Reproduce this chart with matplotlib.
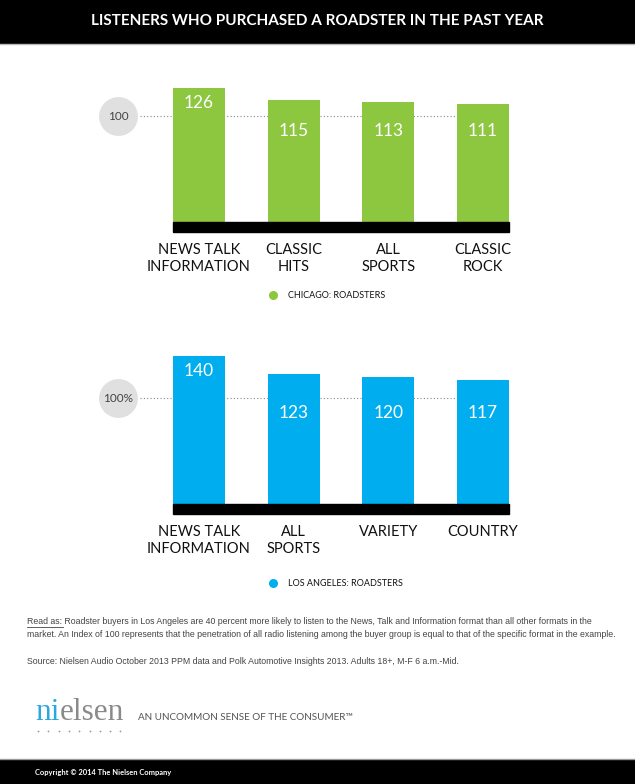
import matplotlib.pyplot as plt
from matplotlib.patches import Rectangle
from matplotlib.lines import Line2D

# chart data
chi_labels = ['NEWS TALK\nINFORMATION', 'CLASSIC\nHITS', 'ALL\nSPORTS', 'CLASSIC\nROCK']
chi_values = [126, 115, 113, 111]
la_labels = ['NEWS TALK\nINFORMATION', 'ALL\nSPORTS', 'VARIETY', 'COUNTRY']
la_values = [140, 123, 120, 117]

W, H = 635, 784
GREEN = '#8dc63f'
BLUE = '#00aeef'
FONT = ['Lato', 'DejaVu Sans']

fig = plt.figure(figsize=(W / 100, H / 100), dpi=100)
fig.patch.set_facecolor('white')


def fx(px):
    return px / W


def fy(py):
    return 1 - py / H


PX_PER_UNIT = 1.06  # pixels per index point
BAR_STEP = 94.7     # pixels between bar centres


def panel(top_px, bottom_px, base_px, labels, values, color, ref_label, legend, legend_dy):
    left_px, right_px = 90, 540
    ax = fig.add_axes([fx(left_px), fy(bottom_px), (right_px - left_px) / W, (bottom_px - top_px) / H])
    ax.set_xlim((left_px - 199) / BAR_STEP, (right_px - 199) / BAR_STEP)
    ax.set_ylim(-(bottom_px - base_px) / PX_PER_UNIT, (base_px - top_px) / PX_PER_UNIT)
    ax.axis('off')
    u = 1 / PX_PER_UNIT  # one pixel in y data units
    xs = list(range(len(values)))
    ax.bar(xs, values, width=0.55, color=color, zorder=2)
    # black baseline
    ax.add_patch(Rectangle((-0.275, -10 * u), len(values) - 1 + 0.55, 10 * u,
                           color='black', zorder=3))
    # dotted 100 reference line and grey bubble
    circ_x = (118 - 199) / BAR_STEP
    ax.plot([circ_x + 22 / BAR_STEP, len(values) - 1 + 0.275], [100, 100],
            ls=(0, (1, 2)), color='#888888', lw=0.8, zorder=1)
    ax.plot([circ_x], [100], marker='o', ms=28, color='#e0e0e0', mec='none', zorder=1)
    ax.text(circ_x, 100, ref_label, ha='center', va='center', fontsize=8.5,
            color='#444444', family=FONT)
    for x, v, lab in zip(xs, values, labels):
        if v - 100 > 25:
            ly = v - 15 * u
        else:
            ly = 100 - 15 * u
        ax.text(x, ly, str(v), ha='center', va='center', color='white',
                fontsize=12.5, family=FONT, zorder=4)
        ax.text(x, -21 * u, lab, ha='center', va='top', fontsize=10.5,
                color='#111111', family=FONT, linespacing=1.25)
    # legend
    ly = -legend_dy * u
    ax.plot([(273 - 199) / BAR_STEP], [ly], marker='o', ms=6.5, color=color, mec='none')
    ax.text((288 - 199) / BAR_STEP, ly, legend, ha='left', va='center', fontsize=6.5,
            color='#111111', family=FONT)
    return ax


panel(70, 310, 222, chi_labels, chi_values, GREEN, '100', 'CHICAGO: ROADSTERS', 73)
panel(340, 600, 504, la_labels, la_values, BLUE, '100%', 'LOS ANGELES: ROADSTERS', 79)

# title bar
fig.patches.append(Rectangle((0, fy(43)), 1, 43 / H, transform=fig.transFigure,
                             color='black', zorder=0))
fig.lines.append(Line2D([0, 1], [fy(44), fy(44)], transform=fig.transFigure,
                        color='#bbbbbb', lw=1))
fig.text(0.5, fy(21), 'LISTENERS WHO PURCHASED A ROADSTER IN THE PAST YEAR',
         ha='center', va='center', color='white', fontsize=11.0, fontweight='bold',
         family=FONT)

# notes
note_font = ['Liberation Sans', 'DejaVu Sans']
note = ('Read as: Roadster buyers in Los Angeles are 40 percent more likely to listen to the News, '
        'Talk and Information format than all other formats in the\n'
        'market. An Index of 100 represents that the penetration of all radio listening among the '
        'buyer group is equal to that of the specific format in the example.')
fig.text(fx(27), fy(617), note, ha='left', va='top', fontsize=6.3, color='#444444',
         family=note_font, linespacing=1.6)
fig.lines.append(Line2D([fx(27), fx(63)], [fy(627), fy(627)], transform=fig.transFigure,
                        color='#444444', lw=0.6))
fig.text(fx(27), fy(661), 'Source: Nielsen Audio October 2013 PPM data and Polk Automotive '
         'Insights 2013. Adults 18+, M-F 6 a.m.-Mid.', ha='left', va='center', fontsize=6.3,
         color='#444444', family=note_font)

# nielsen logo: blue "ni" followed by grey "elsen"
logo_font = ['Liberation Serif', 'DejaVu Serif']
t_ni = fig.text(fx(35), fy(720), 'ni', ha='left', va='baseline', fontsize=22.5,
                color='#29a8e0', family=logo_font)
renderer = fig.canvas.get_renderer()
ni_w = t_ni.get_window_extent(renderer).width
fig.text(fx(35 + ni_w), fy(720), 'elsen', ha='left', va='baseline', fontsize=22.5,
         color='#8a8a8a', family=logo_font)
for i in range(9):
    fig.lines.append(Line2D([fx(38 + i * 10.3)], [fy(731)], transform=fig.transFigure,
                            marker='o', ms=1.3, color='#8aa0b0', mec='none'))
fig.text(fx(138), fy(717), 'AN UNCOMMON SENSE OF THE CONSUMER\u2122', ha='left', va='center',
         fontsize=7.1, color='#555555', family=FONT)

# footer bar
fig.patches.append(Rectangle((0, 0), 1, 24 / H, transform=fig.transFigure,
                             color='black', zorder=0))
fig.lines.append(Line2D([0, 1], [fy(759), fy(759)], transform=fig.transFigure,
                        color='#999999', lw=1))
fig.text(fx(35), fy(772), 'Copyright \u00a9 2014 The Nielsen Company', ha='left', va='center',
         color='white', fontsize=5.4, fontweight='bold', family=FONT)

fig.savefig('out.png', dpi=100, facecolor='white')
